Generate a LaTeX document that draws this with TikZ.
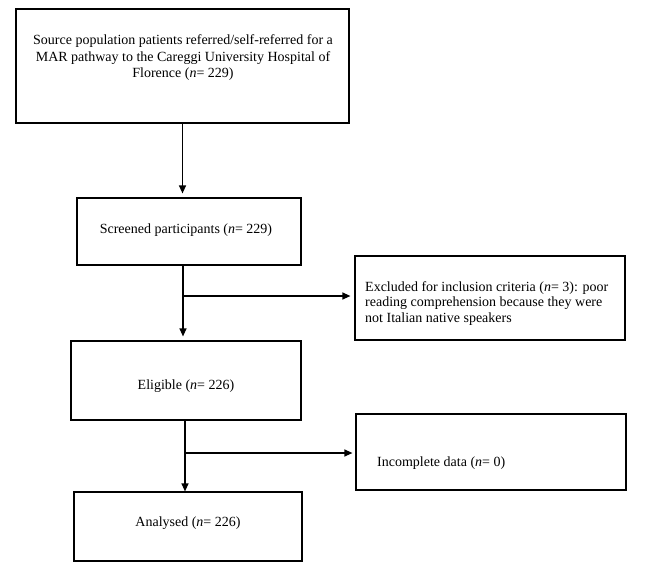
\documentclass[tikz,border=0pt]{standalone}
\usepackage{fontspec}
\setmainfont{Liberation Serif}
\usetikzlibrary{arrows.meta}
\begin{document}
\begin{tikzpicture}[x=1pt,y=-1pt,
  box/.style={draw, line width=1.2pt, inner sep=0pt, rectangle},
  txt/.style={font=\fontsize{14}{16.5}\selectfont, inner sep=0pt, align=center},
  txtl/.style={font=\fontsize{14}{15.8}\selectfont, inner sep=0pt, align=left, anchor=west},
  arr/.style={line width=1.2pt, -{Triangle[length=8pt,width=7pt]}}]
\useasboundingbox (0,0) rectangle (650,571);
\node[box, minimum width=333pt, minimum height=114pt] (b1) at (182.5,66) {};
\node[box, minimum width=224pt, minimum height=67pt] (b2) at (189,231.5) {};
\node[box, minimum width=270pt, minimum height=84pt] (b3) at (490,298) {};
\node[box, minimum width=230pt, minimum height=79pt] (b4) at (186,380.5) {};
\node[box, minimum width=270pt, minimum height=76pt] (b5) at (491,452) {};
\node[box, minimum width=228pt, minimum height=69pt] (b6) at (188,526.5) {};
\node[txt] (t1) at (183,58) {Source population patients referred/self-referred for a\\MAR pathway to the Careggi University Hospital of\\Florence (\textit{n}= 229)};
\node[txt] (t2) at (186,230) {Screened participants (\textit{n}= 229)};
\node[txtl] (t3) at (365,303.5) {Excluded for inclusion criteria (\textit{n}= 3): poor\\reading comprehension because they were\\not Italian native speakers};
\node[txt] (t4) at (186,386) {Eligible (\textit{n}= 226)};
\node[txtl] (t5) at (377,463) {Incomplete data (\textit{n}= 0)};
\node[txt] (t6) at (188,523) {Analysed (\textit{n}= 226)};
\coordinate (j1) at (183,296);
\coordinate (j2) at (185,453);
\draw[arr, shorten >=4pt] (b1.south) -- (b1.south |- b2.north);
\draw[arr, shorten >=4pt] (b2.south -| j1) -- (j1 |- b4.north);
\draw[arr, shorten >=4pt] (j1) -- (j1 -| b3.west);
\draw[arr] (b4.south -| j2) -- (j2 |- b6.north);
\draw[arr, shorten >=3pt] (j2) -- (j2 -| b5.west);
\end{tikzpicture}
\end{document}
